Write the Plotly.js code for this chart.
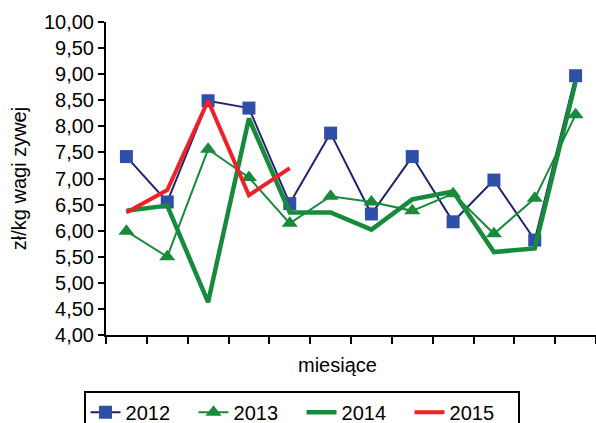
<!DOCTYPE html>
<html>
<head>
<meta charset="utf-8">
<script src="https://cdn.plot.ly/plotly-3.0.1.min.js"></script>
<style>html,body{margin:0;padding:0;background:#fff;}#chart{width:596px;height:423px;}</style>
</head>
<body>
<div id="chart"></div>
<script>
const months = [1,2,3,4,5,6,7,8,9,10,11,12];
const seriesNames = ["2012","2013","2014","2015"];
const v2012 = [7.42, 6.55, 8.49, 8.35, 6.52, 7.87, 6.32, 7.42, 6.17, 6.97, 5.82, 8.97];
const v2013 = [5.99, 5.50, 7.56, 7.02, 6.14, 6.66, 6.55, 6.38, 6.71, 5.94, 6.62, 8.22];
const v2014 = [6.38, 6.48, 4.63, 8.15, 6.35, 6.35, 6.02, 6.60, 6.75, 5.59, 5.66, 8.85];
const v2015 = [6.35, 6.78, 8.49, 6.68, 7.20];

const FONT = "Liberation Sans, Arial, sans-serif";
const traces = [
  {x: months, y: v2012, name: seriesNames[0], type: "scatter", mode: "lines+markers",
   line: {color: "#22226e", width: 2},
   marker: {symbol: "square", size: 13, color: "#3050a8", line: {width: 0}}},
  {x: months, y: v2013, name: seriesNames[1], type: "scatter", mode: "lines+markers",
   line: {color: "#178a3c", width: 2},
   marker: {symbol: "triangle-up", size: 14, color: "#178a3c", line: {width: 0}}},
  {x: months, y: v2014, name: seriesNames[2], type: "scatter", mode: "lines",
   line: {color: "#178a3c", width: 4.5}},
  {x: months.slice(0, v2015.length), y: v2015, name: seriesNames[3], type: "scatter", mode: "lines",
   line: {color: "#ee2126", width: 4}}
];

const layout = {
  width: 596, height: 423,
  margin: {l: 106, r: 0, t: 22, b: 88, autoexpand: false},
  paper_bgcolor: "#fff", plot_bgcolor: "#fff",
  separators: ", ",
  font: {family: FONT, size: 20, color: "#000"},
  showlegend: true,
  legend: {orientation: "h", x: 0.399, xanchor: "center", y: -0.178, yanchor: "top",
           bordercolor: "#000", borderwidth: 2, font: {size: 20, family: FONT},
           traceorder: "normal", entrywidth: 63, entrywidthmode: "pixels", tracegroupgap: 0},
  xaxis: {range: [0.5, 12.5], tick0: 0.5, dtick: 1, showticklabels: false,
          ticks: "outside", ticklen: 7, tickwidth: 2, tickcolor: "#000",
          showline: true, linecolor: "#000", linewidth: 2, showgrid: false, zeroline: false},
  yaxis: {range: [4, 10], dtick: 0.5, tickformat: ".2f",
          ticks: "outside", ticklen: 6, tickwidth: 2, tickcolor: "#000",
          showline: true, linecolor: "#000", linewidth: 2, showgrid: false, zeroline: false,
          tickfont: {size: 20, family: FONT},
          title: {text: "zł/kg wagi zywej", font: {size: 20, family: FONT}, standoff: 12}},
  annotations: [
    {text: "miesiące", xref: "paper", yref: "paper", x: 0.473, y: -0.096,
     xanchor: "center", yanchor: "middle", showarrow: false, font: {size: 20, family: FONT}}
  ]
};

Plotly.newPlot("chart", traces, layout, {staticPlot: true, displayModeBar: false});
</script>
</body>
</html>
